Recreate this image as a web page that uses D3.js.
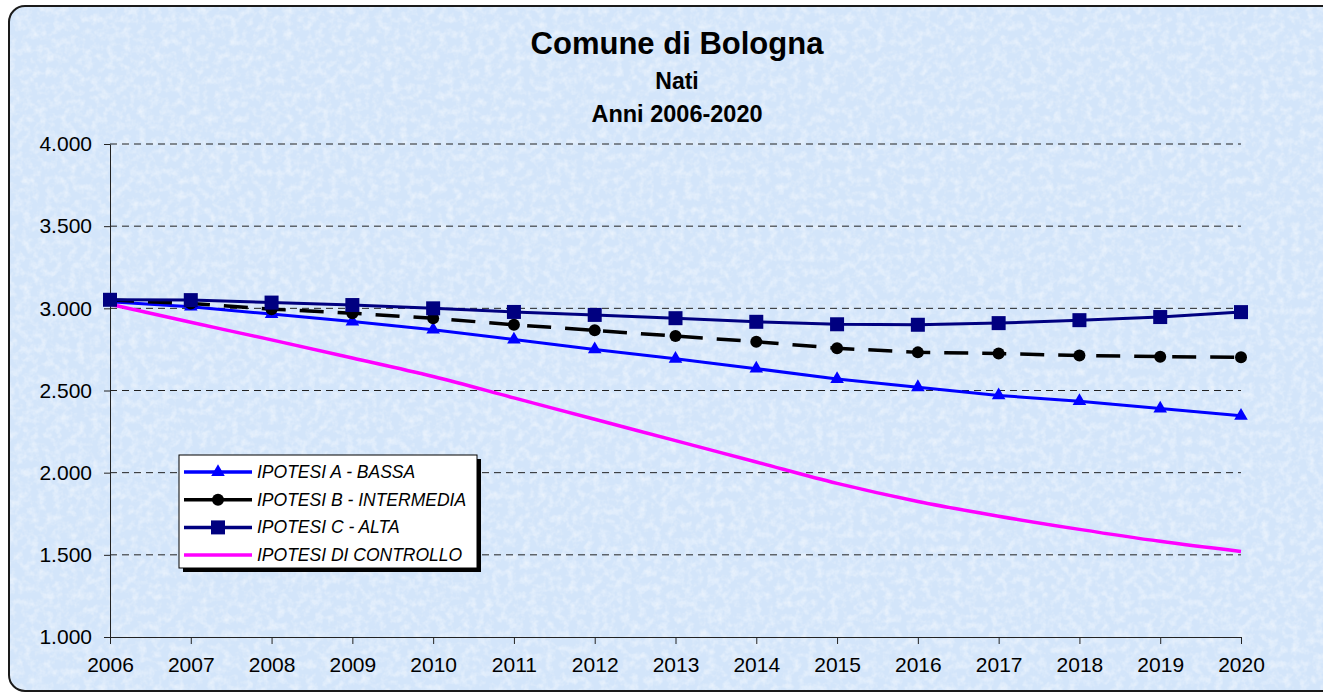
<!DOCTYPE html>
<html>
<head>
<meta charset="utf-8">
<script src="https://cdn.jsdelivr.net/npm/d3@7"></script>
<style>
  html, body { margin: 0; padding: 0; background: #fff; }
  svg { display: block; }
  text { font-family: Arial, "Liberation Sans", sans-serif; }
</style>
</head>
<body>
<svg id="chart" width="1323" height="693"></svg>
<script>
// anni e valori
const years = [2006, 2007, 2008, 2009, 2010, 2011, 2012, 2013, 2014, 2015, 2016, 2017, 2018, 2019, 2020];
const ipotesiA = [3040, 3010, 2965, 2920, 2870, 2810, 2750, 2693, 2633, 2570, 2520, 2470, 2435, 2390, 2346];
const ipotesiB = [3050, 3030, 2995, 2970, 2940, 2900, 2866, 2831, 2797, 2757, 2732, 2725, 2713, 2706, 2702];
const ipotesiC = [3052, 3050, 3035, 3020, 3000, 2978, 2960, 2940, 2918, 2903, 2900, 2910, 2928, 2947, 2977];
const controllo = [3025, 2915, 2808, 2698, 2585, 2455, 2325, 2195, 2065, 1935, 1825, 1735, 1655, 1582, 1520];
const yTicks = [1000, 1500, 2000, 2500, 3000, 3500, 4000];
const seriesNames = ["IPOTESI A - BASSA", "IPOTESI B - INTERMEDIA", "IPOTESI C - ALTA", "IPOTESI DI CONTROLLO"];

const svg = d3.select("#chart");

// sfondo con bordo arrotondato e texture
const defs = svg.append("defs");
const f = defs.append("filter").attr("id", "tex").attr("x", 0).attr("y", 0).attr("width", 1).attr("height", 1);
f.append("feTurbulence").attr("type", "fractalNoise").attr("baseFrequency", "0.13").attr("numOctaves", 3).attr("seed", 7);
f.append("feColorMatrix").attr("type", "matrix")
  .attr("values", "0 0 0 0 1  0 0 0 0 1  0 0 0 0 1  0 0 0 2.0 -0.8");
defs.append("clipPath").attr("id", "bgclip")
  .append("rect").attr("x", 9).attr("y", 6).attr("width", 1340).attr("height", 685).attr("rx", 16);

svg.append("rect").attr("x", 9).attr("y", 6).attr("width", 1340).attr("height", 685).attr("rx", 16)
  .attr("fill", "#d3e5fa");
svg.append("rect").attr("x", 9).attr("y", 6).attr("width", 1340).attr("height", 685)
  .attr("clip-path", "url(#bgclip)").attr("filter", "url(#tex)").attr("opacity", 0.5);
svg.append("rect").attr("x", 9).attr("y", 6).attr("width", 1340).attr("height", 685).attr("rx", 16)
  .attr("fill", "none").attr("stroke", "#1a1a1a").attr("stroke-width", 2);

// titoli
const cx = 677;
svg.append("text").attr("x", cx).attr("y", 54).attr("text-anchor", "middle")
  .attr("font-size", 31).attr("font-weight", "bold").text("Comune di Bologna");
svg.append("text").attr("x", cx).attr("y", 89).attr("text-anchor", "middle")
  .attr("font-size", 23).attr("font-weight", "bold").text("Nati");
svg.append("text").attr("x", cx).attr("y", 122).attr("text-anchor", "middle")
  .attr("font-size", 23.5).attr("font-weight", "bold").text("Anni 2006-2020");

// scale
const x = d3.scalePoint().domain(years).range([110, 1241]).padding(0);
const y = d3.scaleLinear().domain([1000, 4000]).range([637, 144]);

const it = d3.formatLocale({decimal: ",", thousands: ".", grouping: [3], currency: ["€", ""]});
const fmt = it.format(",.0f");

// griglia
svg.append("g").selectAll("line").data(yTicks.filter(d => d > 1000)).enter().append("line")
  .attr("x1", 110).attr("x2", 1241)
  .attr("y1", d => y(d)).attr("y2", d => y(d))
  .attr("stroke", "#222").attr("stroke-width", 1).attr("stroke-dasharray", "7,5");

// assi
const yAxis = svg.append("g").attr("transform", "translate(110,0)")
  .call(d3.axisLeft(y).tickValues(yTicks).tickFormat(fmt).tickSize(6).tickSizeOuter(0).tickPadding(12));
const xAxis = svg.append("g").attr("transform", "translate(0,637)")
  .call(d3.axisBottom(x).tickSize(7).tickSizeOuter(0).tickPadding(13));
[yAxis, xAxis].forEach(a => {
  a.selectAll("path,line").attr("stroke", "#222").attr("stroke-width", 1);
  a.selectAll("text").attr("font-size", 21).attr("fill", "#000").attr("font-family", "Arial, 'Liberation Sans', sans-serif");
});

// linee
const straight = d3.line().x((d, i) => x(years[i])).y(d => y(d));
const smooth = d3.line().x((d, i) => x(years[i])).y(d => y(d)).curve(d3.curveMonotoneX);

svg.append("path").datum(controllo).attr("d", smooth)
  .attr("fill", "none").attr("stroke", "#ff00ff").attr("stroke-width", 3.5);

svg.append("path").datum(ipotesiA).attr("d", straight)
  .attr("fill", "none").attr("stroke", "#0000ff").attr("stroke-width", 3);
const tri = d3.symbol().type(d3.symbolTriangle).size(80);
svg.append("g").selectAll("path").data(ipotesiA).enter().append("path")
  .attr("d", tri).attr("transform", (d, i) => `translate(${x(years[i])},${y(d)})`).attr("fill", "#0000ff");

svg.append("path").datum(ipotesiB).attr("d", straight)
  .attr("fill", "none").attr("stroke", "#000").attr("stroke-width", 3.5).attr("stroke-dasharray", "24,14");
svg.append("g").selectAll("circle").data(ipotesiB).enter().append("circle")
  .attr("cx", (d, i) => x(years[i])).attr("cy", d => y(d)).attr("r", 6).attr("fill", "#000");

svg.append("path").datum(ipotesiC).attr("d", straight)
  .attr("fill", "none").attr("stroke", "#000080").attr("stroke-width", 3);
svg.append("g").selectAll("rect").data(ipotesiC).enter().append("rect")
  .attr("x", (d, i) => x(years[i]) - 7).attr("y", d => y(d) - 7).attr("width", 14).attr("height", 14)
  .attr("fill", "#000080");

// legenda
const lg = svg.append("g").attr("transform", "translate(179,455)");
lg.append("rect").attr("x", 4).attr("y", 4).attr("width", 298).attr("height", 113).attr("fill", "#000");
lg.append("rect").attr("x", 0).attr("y", 0).attr("width", 298).attr("height", 113)
  .attr("fill", "#fff").attr("stroke", "#000").attr("stroke-width", 1);
const colors = ["#0000ff", "#000", "#000080", "#ff00ff"];
seriesNames.forEach((name, i) => {
  const ry = 17 + i * 27.7;
  const row = lg.append("g").attr("transform", `translate(0,${ry})`);
  row.append("line").attr("x1", 5).attr("x2", 73).attr("y1", 0).attr("y2", 0)
    .attr("stroke", colors[i]).attr("stroke-width", 3.5);
  if (i === 0) row.append("path").attr("d", tri).attr("transform", "translate(39,0)").attr("fill", colors[i]);
  if (i === 1) row.append("circle").attr("cx", 39).attr("cy", 0).attr("r", 6).attr("fill", colors[i]);
  if (i === 2) row.append("rect").attr("x", 32).attr("y", -7).attr("width", 14).attr("height", 14).attr("fill", colors[i]);
  row.append("text").attr("x", 78).attr("y", 6).attr("font-size", 17.5).attr("font-style", "italic")
    .attr("fill", "#000").text(name);
});
</script>
</body>
</html>
